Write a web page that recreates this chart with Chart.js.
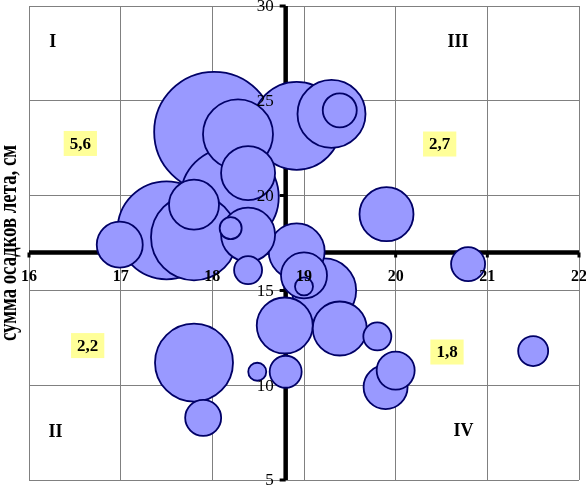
<!DOCTYPE html>
<html lang="ru">
<head>
<meta charset="UTF-8" />
<title>Сумма осадков лета</title>
<script src="https://cdn.jsdelivr.net/npm/chart.js"></script>
<style>
  html, body { margin: 0; padding: 0; background: #fff; }
  canvas { display: block; }
</style>
</head>
<body>
<canvas id="bubbleChart" width="586" height="486"></canvas>
<script>
// --- data ---
const xValues = [18.02, 18.28, 18.39, 18.19, 17.80, 18.20, 18.39, 17.80, 17.50, 16.99,
                 18.39, 18.92, 19.30, 19.39, 19.90, 18.92, 19.00, 19.00, 19.22, 18.79,
                 19.39, 19.80, 19.89, 20.00, 18.80, 18.49, 17.80, 17.90, 20.79, 21.50];
const yValues = [23.36, 23.23, 21.19, 19.92, 19.52, 18.28, 17.94, 17.80, 18.17, 17.41,
                 16.07, 23.68, 24.31, 24.50, 19.02, 17.06, 15.79, 15.21, 15.00, 13.15,
                 12.99, 12.57, 9.90, 10.77, 10.71, 10.71, 11.19, 8.28, 16.39, 11.80];
const bubbleSizes = [60, 35, 27, 49, 25, 11, 27, 43, 49, 23,
                     14, 44, 34, 17, 27, 28, 23, 9, 32, 28,
                     27, 14, 22, 19, 16, 9, 39, 18, 17, 15];

const xTicks = [16, 17, 18, 19, 20, 21, 22];
const yTicks = [5, 10, 15, 20, 25, 30];
const crossX = 18.8;   // vertical axis crosses here
const crossY = 17;     // horizontal axis crosses here

const quadrants = ["I", "II", "III", "IV"];
const quadrantValues = ["5,6", "2,2", "2,7", "1,8"];
const yTitle = "сумма осадков лета, см";

// larger bubbles first so the small ones stay on top
const points = xValues
  .map((x, i) => ({ x: x, y: yValues[i], r: bubbleSizes[i] }))
  .sort((a, b) => b.r - a.r);

const SERIF = '"Liberation Serif", "Times New Roman", serif';

const axesPlugin = {
  id: "crossAxes",
  beforeDatasetsDraw(chart) {
    const { ctx, scales: { x, y } } = chart;
    const ax = x.getPixelForValue(crossX);
    const ay = y.getPixelForValue(crossY);
    ctx.save();
    ctx.strokeStyle = "#000";
    ctx.lineWidth = 4.5;
    ctx.lineCap = "butt";
    ctx.beginPath();
    ctx.moveTo(x.left, ay);
    ctx.lineTo(x.right, ay);
    ctx.moveTo(ax, y.top);
    ctx.lineTo(ax, y.bottom);
    ctx.stroke();
    // tick marks
    ctx.lineWidth = 3;
    ctx.beginPath();
    xTicks.forEach((v) => {
      const px = x.getPixelForValue(v);
      ctx.moveTo(px, ay);
      ctx.lineTo(px, ay + 5);
    });
    yTicks.forEach((v) => {
      const py = y.getPixelForValue(v);
      ctx.moveTo(ax, py);
      ctx.lineTo(ax - 6, py);
    });
    ctx.stroke();
    ctx.restore();
  },
  afterDatasetsDraw(chart) {
    const { ctx, scales: { x, y } } = chart;
    const ax = x.getPixelForValue(crossX);
    const ay = y.getPixelForValue(crossY);
    ctx.save();
    ctx.fillStyle = "#000";

    // x tick labels
    ctx.font = "bold 16px " + SERIF;
    ctx.textAlign = "center";
    ctx.textBaseline = "middle";
    xTicks.forEach((v) => {
      ctx.fillText(String(v), x.getPixelForValue(v), ay + 24);
    });

    // y tick labels
    ctx.font = "17px " + SERIF;
    ctx.textAlign = "right";
    yTicks.forEach((v) => {
      ctx.fillText(String(v), ax - 12, y.getPixelForValue(v) + 1);
    });

    // quadrant numbers
    const qPos = [[16.26, 28.1], [16.29, 7.5], [20.68, 28.1], [20.74, 7.55]];
    ctx.font = "bold 18px " + SERIF;
    ctx.textAlign = "center";
    quadrants.forEach((t, i) => {
      ctx.fillText(t, x.getPixelForValue(qPos[i][0]), y.getPixelForValue(qPos[i][1]));
    });

    // yellow value boxes
    const bPos = [[16.56, 22.75], [16.64, 12.09], [20.48, 22.72], [20.56, 11.75]];
    ctx.font = "bold 17px " + SERIF;
    quadrantValues.forEach((t, i) => {
      const cx = x.getPixelForValue(bPos[i][0]);
      const cy = y.getPixelForValue(bPos[i][1]);
      const w = ctx.measureText(t).width + 12;
      ctx.fillStyle = "#ffff99";
      ctx.fillRect(cx - w / 2, cy - 12.5, w, 25);
      ctx.fillStyle = "#000";
      ctx.fillText(t, cx, cy + 1);
    });

    // y axis title, partly cut off at the left edge like the original
    ctx.font = "bold 25px " + SERIF;
    const tw = ctx.measureText(yTitle).width;
    ctx.translate(16, (y.top + y.bottom) / 2);
    ctx.rotate(-Math.PI / 2);
    ctx.scale(196 / tw, 1);
    ctx.textAlign = "center";
    ctx.textBaseline = "alphabetic";
    ctx.fillText(yTitle, 0, 0);
    ctx.restore();
  },
};

new Chart(document.getElementById("bubbleChart"), {
  type: "bubble",
  data: {
    datasets: [
      {
        data: points,
        backgroundColor: "#9999ff",
        borderColor: "#000066",
        borderWidth: 1.8,
        clip: false,
      },
    ],
  },
  options: {
    responsive: false,
    animation: false,
    layout: { autoPadding: false, padding: { left: 29, right: 7, top: 6, bottom: 6 } },
    plugins: {
      legend: { display: false },
      tooltip: { enabled: false },
    },
    scales: {
      x: {
        type: "linear",
        min: 16,
        max: 22,
        ticks: { display: false, stepSize: 1 },
        grid: { color: "#808080", lineWidth: 1, drawTicks: false },
        border: { display: false },
      },
      y: {
        type: "linear",
        min: 5,
        max: 30,
        ticks: { display: false, stepSize: 5 },
        grid: { color: "#808080", lineWidth: 1, drawTicks: false },
        border: { display: false },
      },
    },
  },
  plugins: [axesPlugin],
});
</script>
</body>
</html>
